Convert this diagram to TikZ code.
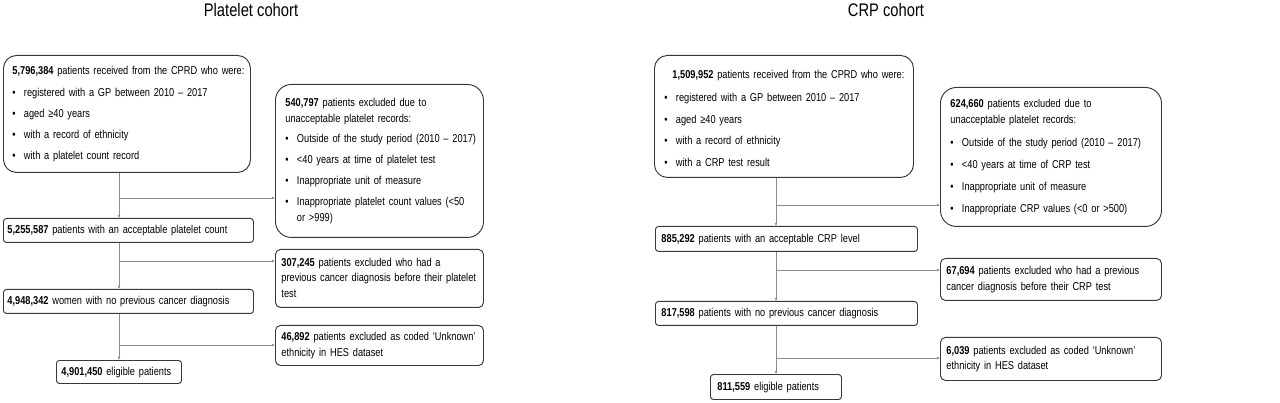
\documentclass[tikz,border=0pt]{standalone}
\usepackage{fontspec}
\setmainfont{Liberation Sans}[FakeStretch=0.81]
\usetikzlibrary{positioning,arrows.meta}
\definecolor{boxline}{HTML}{383838}
\definecolor{linkline}{HTML}{8C8C8C}
\tikzstyle{stepbox}=[draw=boxline,line width=0.95pt,anchor=north west,align=left,
  rounded corners=3pt,font=\fontsize{11.4}{16}\selectfont]
\tikzstyle{listbox}=[stepbox,rounded corners=13pt]
\tikzstyle{exclbox}=[stepbox,rounded corners=5pt,font=\fontsize{11.4}{15.5}\selectfont]
\tikzstyle{cohort}=[font=\fontsize{18.2}{20}\selectfont]
\tikzstyle{link}=[draw=linkline,line width=0.7pt,-{Latex[length=3pt,width=3pt]}]
\newcommand{\itm}{\makebox[11.5pt][l]{\textbullet}}
\newcommand{\cnt}{\hspace*{11.5pt}}
\newcommand{\rows}[1]{\begin{tabular}{@{}l@{}}#1\end{tabular}}

\begin{document}
\begin{tikzpicture}[x=1pt,y=-1pt]
  \useasboundingbox (0,0) rectangle (1280,403);
  % platelet cohort
  \node[cohort] (pT) at (251,10) {Platelet cohort};
  \node[listbox,inner xsep=9pt,text width=229pt,minimum height=117pt] (pA) at (3,55)
    {\rows{\textbf{5,796,384} patients received from the CPRD who were:\\[6pt]
     \itm registered with a GP between 2010 – 2017\\[5pt]
     \itm aged ≥40 years\\[5pt]
     \itm with a record of ethnicity\\[5pt]
     \itm with a platelet count record}};
  \node[listbox,rounded corners=16pt,inner xsep=10pt,text width=188pt,minimum height=153pt] (pE1) at (275,84)
    {\rows{\textbf{540,797} patients excluded due to\\
     unacceptable platelet records:\\[4pt]
     \itm Outside of the study period (2010 – 2017)\\[5pt]
     \itm <40 years at time of platelet test\\[5pt]
     \itm Inappropriate unit of measure\\[5pt]
     \itm Inappropriate platelet count values (<50\\
     \cnt or >999)}};
  \node[stepbox,inner xsep=4pt,text width=242pt,minimum height=24pt] (pB) at (3,218)
    {\rows{\textbf{5,255,587} patients with an acceptable platelet count}};
  \node[exclbox,inner xsep=6pt,text width=196pt,minimum height=58pt] (pE2) at (275,249)
    {\rows{\textbf{307,245} patients excluded who had a\\
     previous cancer diagnosis before their platelet\\
     test}};
  \node[stepbox,inner xsep=4pt,text width=242pt,minimum height=24pt] (pC) at (3,289)
    {\rows{\textbf{4,948,342} women with no previous cancer diagnosis}};
  \node[exclbox,inner xsep=6pt,text width=196pt,minimum height=40pt] (pE3) at (275,325)
    {\rows{\textbf{46,892} patients excluded as coded ‘Unknown’\\
     ethnicity in HES dataset}};
  \node[stepbox,inner xsep=5pt,text width=115pt,minimum height=23pt] (pD) at (56,360)
    {\rows{\textbf{4,901,450} eligible patients}};
  \coordinate (pk1) at (119,198);
  \coordinate (pk2) at (119,261);
  \coordinate (pk3) at (119,345);
  \draw[link] (pA.south -| pk1) -- (pB.north -| pk1);
  \draw[link] (pB.south -| pk2) -- (pC.north -| pk2);
  \draw[link] (pC.south -| pk3) -- (pD.north -| pk3);
  \draw[link] (pk1) -- (pk1 -| pE1.west);
  \draw[link] (pk2) -- (pk2 -| pE2.west);
  \draw[link] (pk3) -- (pk3 -| pE3.west);

  % CRP cohort
  \node[cohort] (cT) at (886,10) {CRP cohort};
  \node[listbox,inner xsep=10pt,text width=239pt,minimum height=122pt] (cA) at (654,55)
    {\rows{\rule{0pt}{17pt}\hspace*{8pt}\textbf{1,509,952} patients received from the CPRD who were:\\[7pt]
     \itm registered with a GP between 2010 – 2017\\[5.5pt]
     \itm aged ≥40 years\\[5.5pt]
     \itm with a record of ethnicity\\[5.5pt]
     \itm with a CRP test result}};
  \node[listbox,rounded corners=16pt,inner xsep=10pt,text width=201pt,minimum height=139pt] (cE1) at (940,87)
    {\rows{\textbf{624,660} patients excluded due to\\
     unacceptable platelet records:\\[7pt]
     \itm Outside of the study period (2010 – 2017)\\[6pt]
     \itm <40 years at time of CRP test\\[6pt]
     \itm Inappropriate unit of measure\\[6pt]
     \itm Inappropriate CRP values (<0 or >500)}};
  \node[stepbox,inner xsep=6pt,text width=250pt,minimum height=25pt] (cB) at (655,226)
    {\rows{\textbf{885,292} patients with an acceptable CRP level}};
  \node[exclbox,inner xsep=6pt,text width=209pt,minimum height=42pt] (cE2) at (940,258)
    {\rows{\textbf{67,694} patients excluded who had a previous\\
     cancer diagnosis before their CRP test}};
  \node[stepbox,inner xsep=6pt,text width=250pt,minimum height=24pt] (cC) at (655,301)
    {\rows{\textbf{817,598} patients with no previous cancer diagnosis}};
  \node[exclbox,inner xsep=6pt,text width=209pt,minimum height=43pt] (cE3) at (940,337)
    {\rows{\textbf{6,039} patients excluded as coded ‘Unknown’\\
     ethnicity in HES dataset}};
  \node[stepbox,inner xsep=7pt,text width=117pt,minimum height=25pt] (cD) at (710,374)
    {\rows{\textbf{811,559} eligible patients}};
  \coordinate (ck1) at (776,205);
  \coordinate (ck2) at (776,270);
  \coordinate (ck3) at (776,358);
  \draw[link] (cA.south -| ck1) -- (cB.north -| ck1);
  \draw[link] (cB.south -| ck2) -- (cC.north -| ck2);
  \draw[link] (cC.south -| ck3) -- (cD.north -| ck3);
  \draw[link] (ck1) -- (ck1 -| cE1.west);
  \draw[link] (ck2) -- (ck2 -| cE2.west);
  \draw[link] (ck3) -- (ck3 -| cE3.west);
\end{tikzpicture}
\end{document}
